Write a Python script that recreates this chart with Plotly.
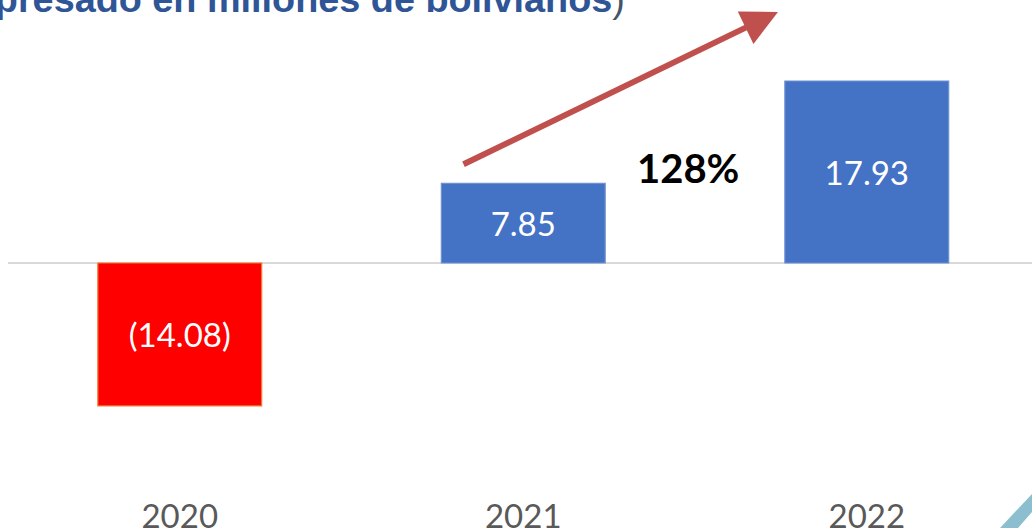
import plotly.graph_objects as go

# Data
years = ["2020", "2021", "2022"]
values = [-14.08, 7.85, 17.93]
labels = ["(14.08)", "7.85", "17.93"]
bar_colors = ["#FF0000", "#4472C4", "#4472C4"]
line_colors = ["#ED7D31", "#6F91D0", "#6F91D0"]
growth_label = "128%"

W, H = 1032, 528
L, T, B = 8, 0, 34
plot_w = W - L
plot_h = H - T - B


def px_x(px):
    """Pixel x -> paper x."""
    return (px - L) / plot_w


def px_y(py):
    """Pixel y -> paper y."""
    return 1 - (py - T) / plot_h


fig = go.Figure()
fig.add_trace(
    go.Bar(
        x=years,
        y=values,
        text=labels,
        textposition="inside",
        insidetextanchor="middle",
        textfont={"family": "Lato, sans-serif", "size": 33, "color": "white"},
        marker={"color": bar_colors, "line": {"color": line_colors, "width": 1.2}},
        width=0.477,
        hoverinfo="skip",
    )
)

# Title, mostly cut off at the top in the original
fig.add_annotation(
    xref="paper",
    yref="paper",
    x=px_x(627),
    y=px_y(22),
    xanchor="right",
    yanchor="bottom",
    text="<b>(Expresado en millones de bolivianos</b>"
    "<span style='color:#44546A'>)</span>",
    showarrow=False,
    font={"family": "Liberation Sans, Arial", "size": 37.8, "color": "#2F5597"},
)

# Growth arrow
fig.add_annotation(
    xref="paper",
    yref="paper",
    x=px_x(778),
    y=px_y(12),
    ax=462 - 778,
    ay=165 - 12,
    axref="pixel",
    ayref="pixel",
    text="",
    showarrow=True,
    arrowhead=2,
    arrowsize=1.2,
    arrowwidth=6,
    arrowcolor="#C0504D",
)

fig.add_annotation(
    xref="paper",
    yref="paper",
    x=px_x(688),
    y=px_y(168),
    text=f"<b>{growth_label}</b>",
    showarrow=False,
    font={"family": "Lato, sans-serif", "size": 40, "color": "black"},
)

# Decorative stripe in the bottom-right corner
fig.add_shape(
    type="path",
    xref="paper",
    yref="paper",
    path=(
        f"M {px_x(1000)} {px_y(528)} L {px_x(1032)} {px_y(494)} "
        f"L {px_x(1032)} {px_y(512)} L {px_x(1018)} {px_y(528)} Z"
    ),
    fillcolor="#8BBFCF",
    line={"width": 0},
    layer="above",
)

fig.update_layout(
    width=W,
    height=H,
    margin={"l": L, "r": 0, "t": T, "b": B},
    paper_bgcolor="white",
    plot_bgcolor="white",
    showlegend=False,
    bargap=0.5,
    xaxis={
        "type": "category",
        "range": [-0.5, 2.481],
        "automargin": False,
        "showgrid": False,
        "showline": False,
        "ticks": "",
        "tickfont": {"family": "Lato, sans-serif", "size": 33, "color": "#595959"},
    },
    yaxis={
        "range": [-22.76, 25.91],
        "automargin": False,
        "showgrid": False,
        "showticklabels": False,
        "zeroline": True,
        "zerolinecolor": "#D9D9D9",
        "zerolinewidth": 1.5,
    },
)

# drop the browser's default body margin so the figure sits at (0, 0)
fig.write_html(
    "out.html",
    config={"displayModeBar": False},
    post_script="document.body.style.margin = '0';",
)
